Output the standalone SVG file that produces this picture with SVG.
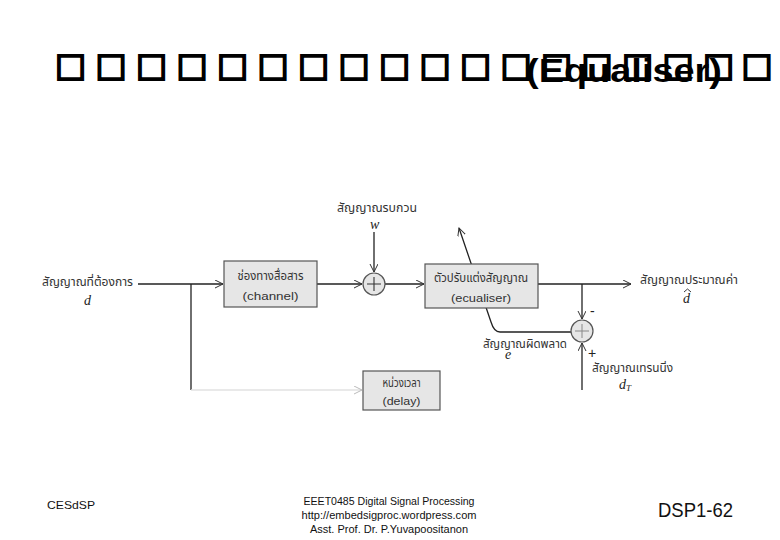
<svg xmlns="http://www.w3.org/2000/svg" width="780" height="540" viewBox="0 0 780 540">
<style>
.bg{fill:#ffffff}
.tofu{font-family:"DejaVu Sans",sans-serif;font-weight:bold;font-size:33px;fill:#000;stroke:#000;stroke-width:2}
.title{font-family:"Liberation Sans",Arial,sans-serif;font-weight:bold;font-size:34px;fill:#000}
.th{font-family:"Noto Sans Thai","Noto Sans","DejaVu Sans",sans-serif;font-size:12px;fill:#333}
.en{font-family:"Liberation Sans",Arial,sans-serif;font-size:11px;fill:#333}
.var{font-family:"Liberation Serif","Times New Roman",serif;font-style:italic;font-size:14px;fill:#222}
.sign{font-family:"Liberation Sans",Arial,sans-serif;font-size:14px;fill:#222}
.box{fill:#e6e6e6;stroke:#555;stroke-width:1.2}
.sum{fill:#e6e6e6;stroke:#555;stroke-width:1.2}
.wire{fill:none;stroke:#222;stroke-width:1.3}
.faint{fill:none;stroke:#e2e2e2;stroke-width:1.3}
.foot{font-family:"Liberation Sans",Arial,sans-serif;font-size:11px;fill:#111}
.page{font-family:"Liberation Sans",Arial,sans-serif;font-size:21px;fill:#111}
</style>
<defs>
<marker id="arr" markerWidth="10" markerHeight="10" refX="8" refY="4" orient="auto" markerUnits="userSpaceOnUse">
<path d="M0,0 L8,4 L0,8" fill="none" stroke="#333" stroke-width="1"/>
</marker>
<marker id="arrf" markerWidth="10" markerHeight="10" refX="8" refY="4" orient="auto" markerUnits="userSpaceOnUse">
<path d="M0,0 L8,4 L0,8" fill="none" stroke="#bbb" stroke-width="1"/>
</marker>
</defs>
<rect class="bg" x="0" y="0" width="780" height="540"/>

<g id="title">
<text class="tofu" x="55 95.5 136 176.5 217 257.5 298 338.5 379 419.5 460 500.5 541 581.5 622 662.5 703 741.5" y="76">□□□□□□□□□□□□□□□□□□</text>
<text class="title" x="526" y="82" textLength="196" lengthAdjust="spacingAndGlyphs">(Equaliser)</text>
</g>

<g id="connectors">
<path class="wire" d="M138,284 H223" marker-end="url(#arr)"/>
<path class="wire" d="M191,284 V390"/>
<path class="faint" d="M191,390 H362" marker-end="url(#arrf)"/>
<path class="wire" d="M317,284 H362" marker-end="url(#arr)"/>
<path class="wire" d="M374,232 V272" marker-end="url(#arr)"/>
<path class="wire" d="M385,284 H424" marker-end="url(#arr)"/>
<path class="wire" d="M538,284 H631" marker-end="url(#arr)"/>
<path class="wire" d="M582,284 V319" marker-end="url(#arr)"/>
<path class="wire" d="M582,390 V343" marker-end="url(#arr)"/>
<path class="wire" d="M571,332 H500 Q494,332 491,322 L459,228" marker-end="url(#arr)"/>
</g>

<g id="input">
<text class="th" x="42" y="286" textLength="91" lengthAdjust="spacingAndGlyphs">สัญญาณที่ต้องการ</text>
<text class="var" x="84" y="305">d</text>
</g>

<g id="channel">
<rect class="box" x="224" y="261" width="93" height="46"/>
<text class="th" x="270.5" y="280" text-anchor="middle" textLength="66" lengthAdjust="spacingAndGlyphs">ช่องทางสื่อสาร</text>
<text class="en" x="270.5" y="300" text-anchor="middle" textLength="56" lengthAdjust="spacingAndGlyphs">(channel)</text>
</g>

<g id="noise">
<text class="th" x="377" y="212" text-anchor="middle" textLength="80" lengthAdjust="spacingAndGlyphs">สัญญาณรบกวน</text>
<text class="var" x="370" y="229" font-size="11">w</text>
</g>

<g id="sum1">
<circle class="sum" cx="374" cy="284" r="11"/>
<path d="M367,284 H381 M374,277 V291" stroke="#333" stroke-width="1.1"/>
</g>

<g id="equaliser">
<rect class="box" x="425" y="264" width="113" height="44"/>
<text class="th" x="481" y="282" text-anchor="middle" textLength="94" lengthAdjust="spacingAndGlyphs">ตัวปรับแต่งสัญญาณ</text>
<text class="en" x="481" y="302" text-anchor="middle" textLength="60" lengthAdjust="spacingAndGlyphs">(ecualiser)</text>
</g>

<g id="output">
<text class="th" x="640" y="284" textLength="98" lengthAdjust="spacingAndGlyphs">สัญญาณประมาณค่า</text>
<text class="var" x="683" y="303">d</text>
<path d="M684,292 L687.5,289 L691,292" fill="none" stroke="#222" stroke-width="0.9"/>
</g>

<g id="sum2">
<circle class="sum" cx="582" cy="331" r="11"/>
<path d="M575,331 H589 M582,324 V338" stroke="#888" stroke-width="1"/>
<text class="sign" x="590" y="316">-</text>
<text class="sign" x="588" y="358">+</text>
</g>

<g id="error">
<text class="th" x="483" y="348" textLength="84" lengthAdjust="spacingAndGlyphs">สัญญาณผิดพลาด</text>
<text class="var" x="505" y="359" font-size="11">e</text>
</g>

<g id="training">
<text class="th" x="592" y="372" textLength="81" lengthAdjust="spacingAndGlyphs">สัญญาณเทรนนิ่ง</text>
<text class="var" x="619" y="389">d<tspan font-size="9" dy="2">T</tspan></text>
</g>

<g id="delay">
<rect class="box" x="363" y="371" width="77" height="39"/>
<text class="th" x="401.5" y="387" text-anchor="middle" textLength="38" lengthAdjust="spacingAndGlyphs">หน่วงเวลา</text>
<text class="en" x="401.5" y="405" text-anchor="middle" textLength="38" lengthAdjust="spacingAndGlyphs">(delay)</text>
</g>

<g id="footer">
<text class="foot" x="47" y="509" textLength="48" lengthAdjust="spacingAndGlyphs">CESdSP</text>
<text class="foot" x="389" y="505" text-anchor="middle" textLength="171" lengthAdjust="spacingAndGlyphs">EEET0485 Digital Signal Processing</text>
<text class="foot" x="389" y="519" text-anchor="middle" textLength="175" lengthAdjust="spacingAndGlyphs">http://embedsigproc.wordpress.com</text>
<text class="foot" x="389" y="533" text-anchor="middle" textLength="158" lengthAdjust="spacingAndGlyphs">Asst. Prof. Dr. P.Yuvapoositanon</text>
<text class="page" x="658" y="517" textLength="75" lengthAdjust="spacingAndGlyphs">DSP1-62</text>
</g>
</svg>
